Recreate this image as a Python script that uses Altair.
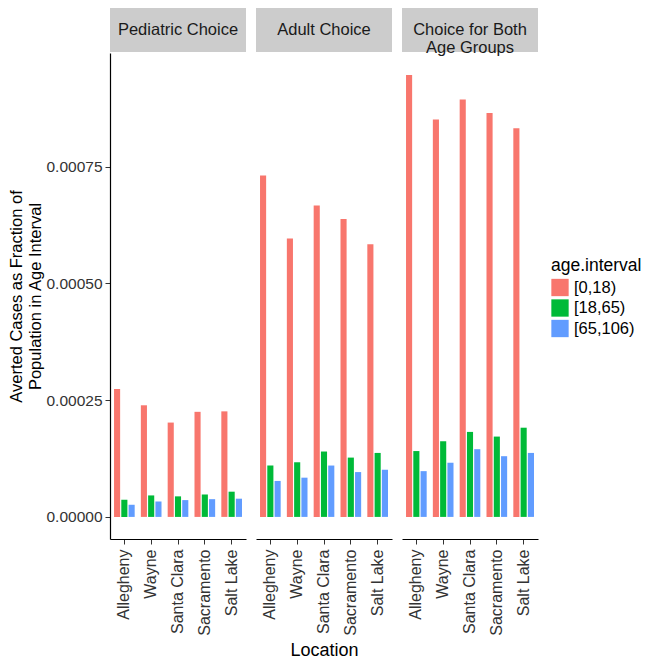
import altair as alt
import pandas as pd

locations = ["Allegheny", "Wayne", "Santa Clara", "Sacramento", "Salt Lake"]
age_intervals = ["[0,18)", "[18,65)", "[65,106)"]
scenarios = ["Pediatric Choice", "Adult Choice", "Choice for Both\nAge Groups"]
colors = ["#F8766D", "#00BA38", "#619CFF"]

pediatric_0_18 = [0.000274, 0.000239, 0.000202, 0.000225, 0.000226]
pediatric_18_65 = [0.000037, 0.000046, 0.000044, 0.000048, 0.000054]
pediatric_65_106 = [0.000026, 0.000033, 0.000036, 0.000038, 0.000039]
adult_0_18 = [0.000731, 0.000596, 0.000667, 0.000638, 0.000584]
adult_18_65 = [0.000110, 0.000117, 0.000140, 0.000127, 0.000137]
adult_65_106 = [0.000077, 0.000084, 0.000110, 0.000096, 0.000101]
both_0_18 = [0.000946, 0.000851, 0.000894, 0.000865, 0.000832]
both_18_65 = [0.000141, 0.000162, 0.000182, 0.000172, 0.000191]
both_65_106 = [0.000098, 0.000116, 0.000145, 0.000130, 0.000137]

y_ticks = [0.0, 0.00025, 0.0005, 0.00075]

series = [
    [pediatric_0_18, pediatric_18_65, pediatric_65_106],
    [adult_0_18, adult_18_65, adult_65_106],
    [both_0_18, both_18_65, both_65_106],
]

all_vals = [v for grp in series for s in grp for v in s]
vmax = max(all_vals)
y_domain = [-0.05 * vmax, 1.05 * vmax]

FONT = "Liberation Sans"
W = 136
H = 486


def make_df(groups):
    rows = []
    for age, vals in zip(age_intervals, groups):
        for loc, v in zip(locations, vals):
            rows.append({"location": loc, "age": age, "value": v})
    return pd.DataFrame(rows)


def panel(i):
    df = make_df(series[i])
    show_y = i == 0
    x_axis = alt.Axis(
        grid=False,
        labelAngle=270,
        labelFontSize=16,
        labelColor="#333333",
        labelFont=FONT,
        labelPadding=5,
        tickSize=5,
        tickColor="#333333",
        domainColor="#000000",
        domainWidth=1.2,
        title="Location" if i == 1 else None,
        titleFontSize=18,
        titleFont=FONT,
        titleFontWeight="normal",
        titleColor="#000000",
        titlePadding=6,
    )
    if show_y:
        y_axis = alt.Axis(
            values=y_ticks,
            format=".5f",
            labelFontSize=15.5,
            labelColor="#333333",
            labelFont=FONT,
            labelPadding=3,
            tickSize=5,
            tickColor="#333333",
            domainColor="#000000",
            domainWidth=1.2,
            grid=False,
            title=["Averted Cases as Fraction of", "Population in Age Interval"],
            titleFontSize=16.5,
            titleFont=FONT,
            titleFontWeight="normal",
            titleColor="#000000",
            titleLineHeight=19,
            titlePadding=2,
        )
    else:
        y_axis = None
    bars = alt.Chart(df).mark_bar().encode(
        x=alt.X(
            "location:N",
            sort=locations,
            scale=alt.Scale(paddingInner=0.23, paddingOuter=0.15),
            axis=x_axis,
        ),
        xOffset=alt.XOffset(
            "age:N", sort=age_intervals, scale=alt.Scale(paddingInner=0.16, paddingOuter=0)
        ),
        y=alt.Y(
            "value:Q",
            stack=None,
            scale=alt.Scale(domain=y_domain, nice=False, zero=False),
            axis=y_axis,
        ),
        y2=alt.datum(0),
        color=alt.Color(
            "age:N",
            scale=alt.Scale(domain=age_intervals, range=colors),
            legend=alt.Legend(
                title="age.interval",
                orient="none",
                legendX=441,
                legendY=204,
                symbolType="square",
                symbolSize=300,
                symbolStrokeWidth=0,
                symbolOpacity=1,
                titleFontSize=17.5,
                titleFont=FONT,
                titleFontWeight="normal",
                titleColor="#000000",
                labelFontSize=16.5,
                labelFont=FONT,
                labelColor="#000000",
                rowPadding=2.5,
                titlePadding=4,
                labelOffset=5,
                padding=0,
            ),
        ),
    )
    strip_df = pd.DataFrame({"label": [scenarios[i]]})
    strip_bg = alt.Chart(strip_df).mark_rect(color="#cccccc").encode(
        x=alt.value(0), x2=alt.value(W), y=alt.value(-45), y2=alt.value(-1)
    )
    strip_text = alt.Chart(strip_df).mark_text(
        font=FONT, fontSize=16.5, color="#1a1a1a", lineBreak="\n", lineHeight=18,
        align="center", baseline="middle",
    ).encode(text="label:N", x=alt.value(W / 2), y=alt.value(-23))
    return alt.layer(bars, strip_bg, strip_text).properties(
        width=W, height=H, view=alt.ViewBackground(stroke="transparent", strokeWidth=0)
    )


chart = (
    alt.hconcat(panel(0), panel(1), panel(2), spacing=10)
    .resolve_scale(color="shared")
    .properties(padding={"left": 0, "top": 0, "right": 0, "bottom": 0})
    .configure_view(strokeWidth=0, stroke="transparent")
    .configure_axis(grid=False)
    .configure(background="white")
)

chart.save("out.html", embed_options={"renderer": "svg", "actions": False})
